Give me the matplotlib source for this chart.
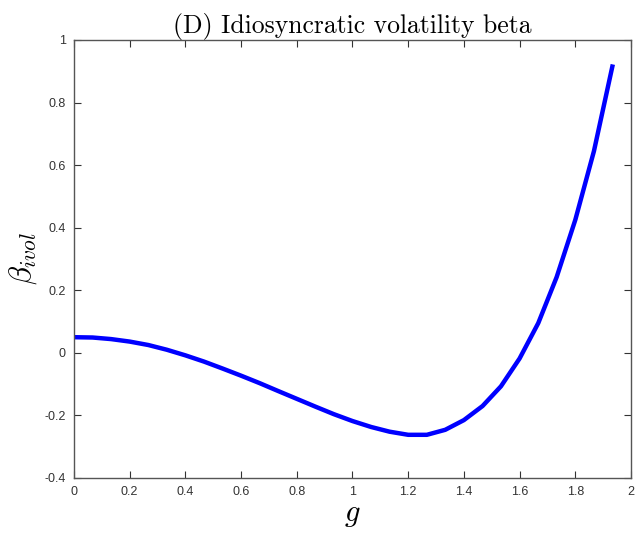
import matplotlib
matplotlib.use("Agg")
import matplotlib.pyplot as plt

plt.rcParams['mathtext.fontset'] = 'cm'
plt.rcParams['axes.unicode_minus'] = False

# values
g = [0.0, 0.067, 0.133, 0.2, 0.267, 0.333, 0.4, 0.467, 0.533, 0.6,
     0.667, 0.733, 0.8, 0.867, 0.933, 1.0, 1.067, 1.133, 1.2, 1.267,
     1.333, 1.4, 1.467, 1.533, 1.6, 1.667, 1.733, 1.8, 1.867, 1.933]
beta_ivol = [0.050, 0.049, 0.044, 0.036, 0.025, 0.010, -0.008, -0.028, -0.050, -0.073,
             -0.097, -0.122, -0.147, -0.172, -0.196, -0.218, -0.237, -0.252, -0.262, -0.262,
             -0.246, -0.215, -0.170, -0.107, -0.018, 0.095, 0.242, 0.425, 0.645, 0.915]

xticks = [0, 0.2, 0.4, 0.6, 0.8, 1, 1.2, 1.4, 1.6, 1.8, 2]
xlabels = ['0', '0.2', '0.4', '0.6', '0.8', '1', '1.2', '1.4', '1.6', '1.8', '2']
yticks = [-0.4, -0.2, 0, 0.2, 0.4, 0.6, 0.8, 1]
ylabels = ['-0.4', '-0.2', '0', '0.2', '0.4', '0.6', '0.8', '1']

fig = plt.figure(figsize=(6.35, 5.34), dpi=100)
ax = fig.add_axes([0.1165, 0.1049, 0.8772, 0.8202])

ax.plot(g, beta_ivol, color='#0000ff', linewidth=3.2)

ax.set_xlim(0, 2)
ax.set_ylim(-0.4, 1)
ax.set_xticks(xticks)
ax.set_xticklabels(xlabels, fontfamily='Liberation Sans', fontsize=9, color='#333333')
ax.set_yticks(yticks)
ax.set_yticklabels(ylabels, fontfamily='Liberation Sans', fontsize=9, color='#333333')
ax.tick_params(direction='in', top=True, right=True, length=5, width=0.8, color='#333333', pad=6)
for s in ax.spines.values():
    s.set_color('#555555')
    s.set_linewidth(1.0)

ax.set_title('(D) Idiosyncratic volatility beta', fontfamily='cmr10', fontsize=18.5, pad=5)
ax.set_xlabel('$g$', fontsize=22, labelpad=1)
ax.set_ylabel(r'$\beta_{ivol}$', fontsize=22, labelpad=4)

fig.savefig('out.png', dpi=100)
